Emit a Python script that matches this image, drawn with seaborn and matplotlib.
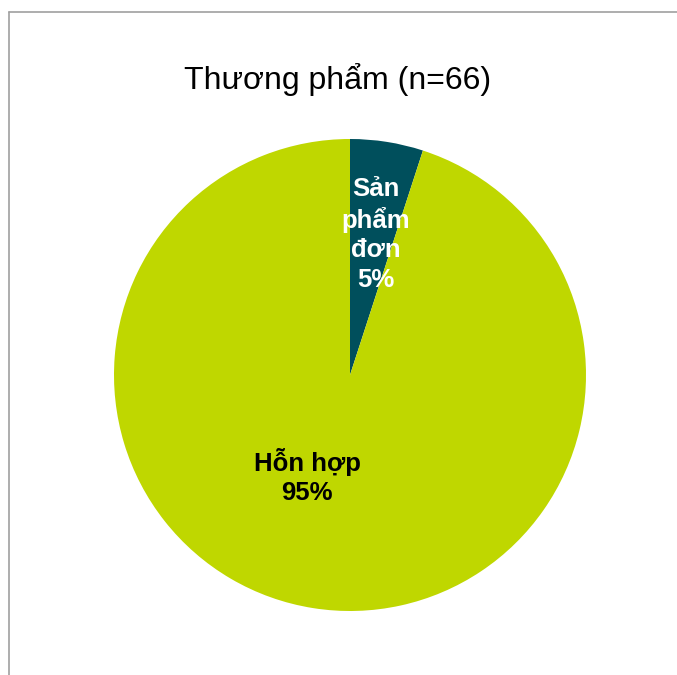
import matplotlib
matplotlib.use("Agg")
import matplotlib.pyplot as plt
from matplotlib.lines import Line2D
import seaborn as sns

categories = ["Sản phẩm đơn", "Hỗn hợp"]
values = [5, 95]
label_texts = ["Sản\nphẩm\nđơn\n5%", "Hỗn hợp\n95%"]
colors = ["#004F5C", "#BFD700"]
text_colors = ["white", "black"]
title = "Thương phẩm (n=66)"

sns.set_theme(style="white")
plt.rcParams['font.family'] = ['Liberation Sans', 'DejaVu Sans']

W, H = 677, 675
fig = plt.figure(figsize=(W / 100, H / 100), dpi=100)
fig.patch.set_facecolor("white")

cx, cy, r = 350, 375, 236
ax = fig.add_axes([(cx - r) / W, (H - cy - r) / H, 2 * r / W, 2 * r / H])
wedges, _ = ax.pie(values, colors=colors, startangle=90, counterclock=False,
                   radius=1, wedgeprops=dict(linewidth=0))
ax.set_xlim(-1, 1)
ax.set_ylim(-1, 1)
ax.set_aspect("equal")
ax.axis("off")

label_pos = [(0.11, 0.596), (-0.182, -0.43)]
for txt, (x, y), c in zip(label_texts, label_pos, text_colors):
    ax.text(x, y, txt, ha="center", va="center", color=c, fontsize=18.5,
            fontweight="bold", linespacing=1.29)

fig.text(338 / W, 1 - 80 / H, title, ha="center", va="center", fontsize=23,
         color="black")

fig.add_artist(Line2D([8.5 / W, 8.5 / W], [0, 1 - 11.5 / H], transform=fig.transFigure,
                      color="#A0A0A0", linewidth=1.2))
fig.add_artist(Line2D([8.5 / W, 1], [1 - 11.5 / H, 1 - 11.5 / H], transform=fig.transFigure,
                      color="#A0A0A0", linewidth=1.2))

fig.savefig("out.png", dpi=100, facecolor="white")
